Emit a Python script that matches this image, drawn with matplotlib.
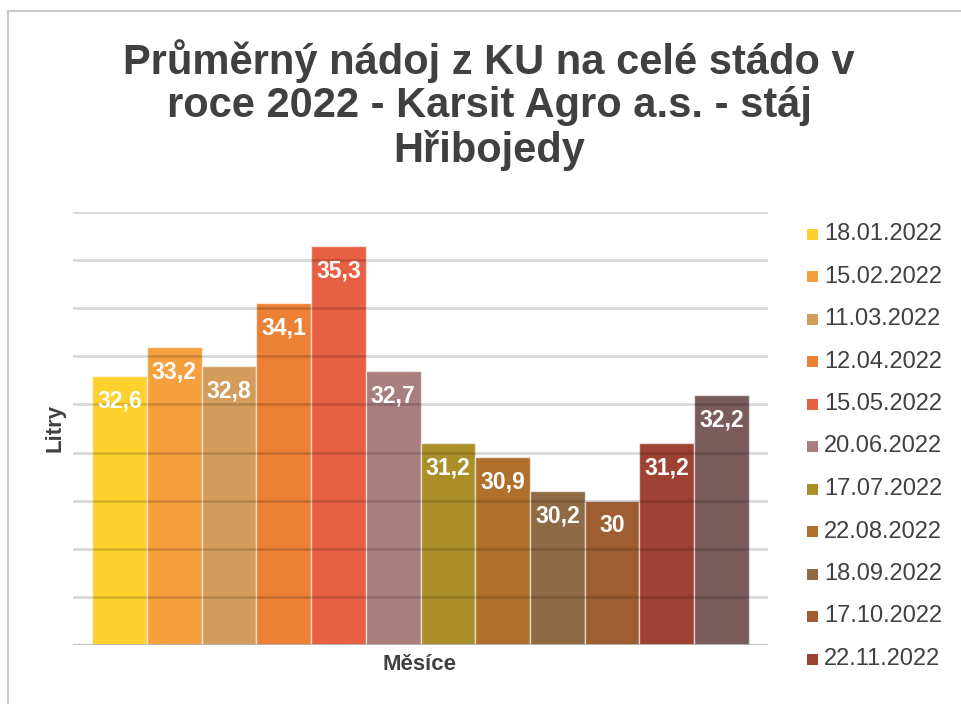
import matplotlib
matplotlib.use("Agg")
import matplotlib.pyplot as plt
from matplotlib.patches import Rectangle
from matplotlib.lines import Line2D

dates = ["18.01.2022", "15.02.2022", "11.03.2022", "12.04.2022", "15.05.2022",
         "20.06.2022", "17.07.2022", "22.08.2022", "18.09.2022", "17.10.2022",
         "22.11.2022", "12.2022"]
values = [32.6, 33.2, 32.8, 34.1, 35.3, 32.7, 31.2, 30.9, 30.2, 30.0, 31.2, 32.2]
labels = ["32,6", "33,2", "32,8", "34,1", "35,3", "32,7", "31,2", "30,9", "30,2", "30", "31,2", "32,2"]
colors = ["#FDD22F", "#F5A03C", "#D49C5A", "#EC8035", "#E86044", "#A97E7E",
          "#AA8E28", "#AF702C", "#8E6B44", "#9E5E31", "#9E4233", "#795B5C"]
legend_count = 11  # only 11 entries visible in the reference

plt.rcParams['font.family'] = ['Liberation Sans', 'DejaVu Sans']
W, H = 961, 704
fig = plt.figure(figsize=(W / 100, H / 100), dpi=100)

# outer frame
fig.add_artist(Line2D([8 / W, 8 / W], [0, 1 - 11 / H], transform=fig.transFigure, color="#c9c9c9", lw=1.5))
fig.add_artist(Line2D([8 / W, 1], [1 - 11 / H, 1 - 11 / H], transform=fig.transFigure, color="#c9c9c9", lw=1.5))

left, right, top, bottom = 73, 768, 212, 645
ax = fig.add_axes([left / W, 1 - bottom / H, (right - left) / W, (bottom - top) / H])

x = list(range(len(values)))
bars = ax.bar(x, values, width=1.0, color=colors, edgecolor=(1, 1, 1, 0.6), linewidth=1.0, zorder=2)

ax.set_ylim(27, 36)
ax.set_xlim(-0.5 - 0.35, len(values) - 0.5 + 0.35)

for yv in range(28, 37):
    ax.axhline(yv, color="black", alpha=0.15, lw=2, zorder=3)
ax.axhline(27, color="#b8b8b8", lw=2, zorder=3)

for xi, v, lab in zip(x, values, labels):
    ax.annotate(lab, (xi, v), xytext=(0, -18), textcoords="offset points",
                ha="center", va="center", color="white", fontsize=16.5, fontweight="bold", zorder=4)

for s in ax.spines.values():
    s.set_visible(False)
ax.set_xticks([])
ax.set_yticks([])

fig.text(420 / W, 1 - 664 / H, "Měsíce", ha="center", va="center", fontsize=16, fontweight="bold", color="#404040")
fig.text(55 / W, 1 - 428 / H, "Litry", ha="center", va="center", rotation=90, fontsize=16, fontweight="bold", color="#404040")

title = "Průměrný nádoj z KU na celé stádo v\nroce 2022 - Karsit Agro a.s. - stáj\nHřibojedy"
fig.text(489 / W, 1 - 105 / H, title, ha="center", va="center", fontsize=30, fontweight="bold",
         color="#404040", linespacing=1.1)

# legend
for i in range(legend_count):
    yc = 234 + i * 42.5
    fig.add_artist(Rectangle((807 / W, 1 - (yc + 5.5) / H), 11 / W, 11 / H,
                             transform=fig.transFigure, facecolor=colors[i], edgecolor="none"))
    fig.text(824 / W, 1 - yc / H, dates[i], ha="left", va="center", fontsize=17, color="#404040")

fig.savefig("out.png", dpi=100)
